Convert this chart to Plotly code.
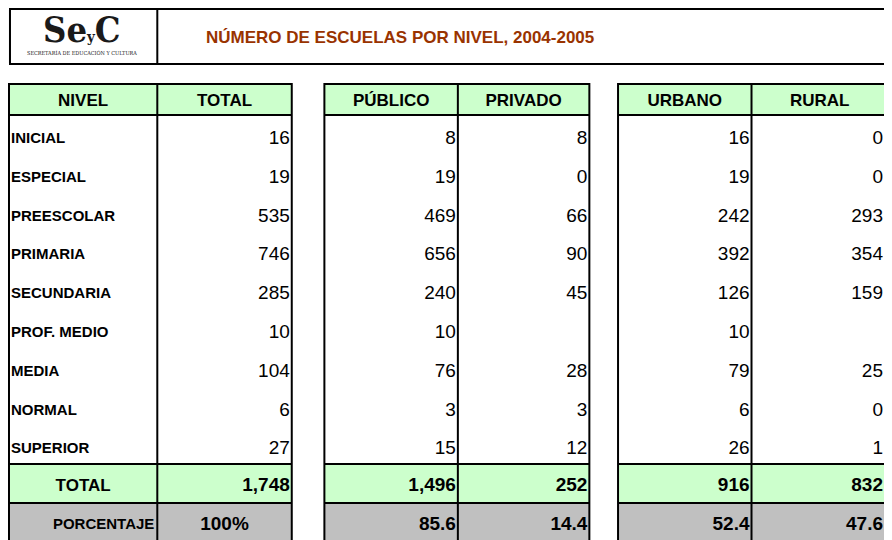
import plotly.graph_objects as go

# ── data ─────────────────────────────────────────────────────────────────────
niveles = ["INICIAL", "ESPECIAL", "PREESCOLAR", "PRIMARIA", "SECUNDARIA",
           "PROF. MEDIO", "MEDIA", "NORMAL", "SUPERIOR"]
total = [16, 19, 535, 746, 285, 10, 104, 6, 27]
publico = [8, 19, 469, 656, 240, 10, 76, 3, 15]
privado = [8, 0, 66, 90, 45, None, 28, 3, 12]
urbano = [16, 19, 242, 392, 126, 10, 79, 6, 26]
rural = [0, 0, 293, 354, 159, None, 25, 0, 1]

headers = ["NIVEL", "TOTAL", "PÚBLICO", "PRIVADO", "URBANO", "RURAL"]
totales = ["1,748", "1,496", "252", "916", "832"]
porcentajes = ["100%", "85.6", "14.4", "52.4", "47.6"]

titulo = "NÚMERO DE ESCUELAS POR NIVEL, 2004-2005"

# ── layout (reference pixel space; page body adds an 8px margin) ─────────────
W, H = 892, 540
OFF = 8
HEAD_TOP, HEAD_BOT = 84, 115
TOT_TOP, PCT_TOP, PCT_BOT = 464, 503, 542
ROW_H = (TOT_TOP - HEAD_BOT) / len(niveles)
# (left, divider, right) for each of the three blocks
BLOCKS = [(6, 156, 292), (325, 460, 593), (622, 757, 895)]
GREEN, GREY, LINE = "#CCFFCC", "#C0C0C0", "#000000"
FONT = "Arial, Liberation Sans, sans-serif"

fig = go.Figure()
shapes = []


def rect(x0, y0, x1, y1, fill=None, line=None, w=2):
    shapes.append(dict(type="rect", xref="x", yref="y", x0=x0, y0=y0, x1=x1, y1=y1,
                       fillcolor=fill or "rgba(0,0,0,0)", layer="below",
                       line=dict(color=line or "rgba(0,0,0,0)", width=w if line else 0)))


def hline(x0, x1, y):
    shapes.append(dict(type="line", xref="x", yref="y", x0=x0, x1=x1, y0=y, y1=y,
                       layer="below", line=dict(color=LINE, width=2)))


def vline(x, y0, y1):
    shapes.append(dict(type="line", xref="x", yref="y", x0=x, x1=x, y0=y0, y1=y1,
                       layer="below", line=dict(color=LINE, width=2)))


# banner with logo + title
rect(7, 9, W + 20, 64, line=LINE)
vline(156, 9, 64)

for (l, d, r) in BLOCKS:
    rect(l, HEAD_TOP, r, HEAD_BOT, fill=GREEN)
    rect(l, TOT_TOP, r, PCT_TOP, fill=GREEN)
    rect(l, PCT_TOP, r, PCT_BOT, fill=GREY)
    rect(l, HEAD_TOP, r, PCT_BOT, line=LINE)
    vline(d, HEAD_TOP, PCT_BOT)
    for y in (HEAD_BOT, TOT_TOP, PCT_TOP):
        hline(l, r, y)

row_y = [HEAD_BOT + ROW_H * (i + 0.5) + 5 for i in range(len(niveles))]
head_y = (HEAD_TOP + HEAD_BOT) / 2 + 2
tot_y = (TOT_TOP + PCT_TOP) / 2 + 3
pct_y = (PCT_TOP + PCT_BOT) / 2 + 3

col_edges = []
for (l, d, r) in BLOCKS:
    col_edges += [(l, d), (d, r)]
# right-aligned anchor of each column (last one kept inside the window)
num_x = [min(b - 2, 890) for a, b in col_edges]


def text(xs, ys, labels, pos, size, bold=False):
    fig.add_trace(go.Scatter(
        x=xs, y=ys, mode="text", text=[f"<b>{t}</b>" if bold else t for t in labels],
        textposition=pos, hoverinfo="skip", showlegend=False, cliponaxis=False,
        textfont=dict(family=FONT, size=size, color="black")))


# header labels
text([(a + b) / 2 for a, b in col_edges], [head_y] * 6, headers, "middle center", 17, bold=True)

# row labels
text([col_edges[0][0] + 2] * len(niveles), row_y, niveles, "middle right", 15, bold=True)

# numeric body columns
for j, serie in enumerate([total, publico, privado, urbano, rural], start=1):
    vals = ["" if v is None else str(v) for v in serie]
    text([num_x[j]] * len(vals), row_y, vals, "middle left", 19)

# total row
text([(col_edges[0][0] + col_edges[0][1]) / 2], [tot_y], ["TOTAL"], "middle center", 17, bold=True)
text(num_x[1:], [tot_y] * 5, totales, "middle left", 19, bold=True)

# percentage row
text([num_x[0] - 1], [pct_y], ["PORCENTAJE"], "middle left", 15, bold=True)
text([(col_edges[1][0] + col_edges[1][1]) / 2], [pct_y], [porcentajes[0]], "middle center", 19, bold=True)
text(num_x[2:], [pct_y] * 4, porcentajes[1:], "middle left", 19, bold=True)

annotations = [
    dict(x=203, y=37, xref="x", yref="y", xanchor="left", yanchor="middle", showarrow=False,
         text=f"<b>{titulo}</b>",
         font=dict(family=FONT, size=17, color="#993300")),
    dict(x=80, y=29, xref="x", yref="y", xanchor="center", yanchor="middle", showarrow=False,
         text="<b>Se</b><span style='font-size:15px'><b>y</b></span><b>C</b>",
         font=dict(family="DejaVu Serif Condensed, DejaVu Serif, serif", size=36, color="#1a1a1a")),
    dict(x=80, y=52, xref="x", yref="y", xanchor="center", yanchor="middle", showarrow=False,
         text="SECRETARÍA DE EDUCACIÓN Y CULTURA",
         font=dict(family="DejaVu Serif Condensed, DejaVu Serif, serif", size=5.5, color="#1a1a1a")),
]

# the page shows the figure between x 8..884, so map reference x 5..891 onto it
fig.update_layout(
    width=W - 2 * OFF, height=H - OFF, margin=dict(l=0, r=0, t=0, b=0),
    paper_bgcolor="white", plot_bgcolor="white",
    xaxis=dict(range=[5, 891], visible=False, fixedrange=True),
    yaxis=dict(range=[H, OFF], visible=False, fixedrange=True),
    shapes=shapes, annotations=annotations,
)

fig.write_html("out.html")
